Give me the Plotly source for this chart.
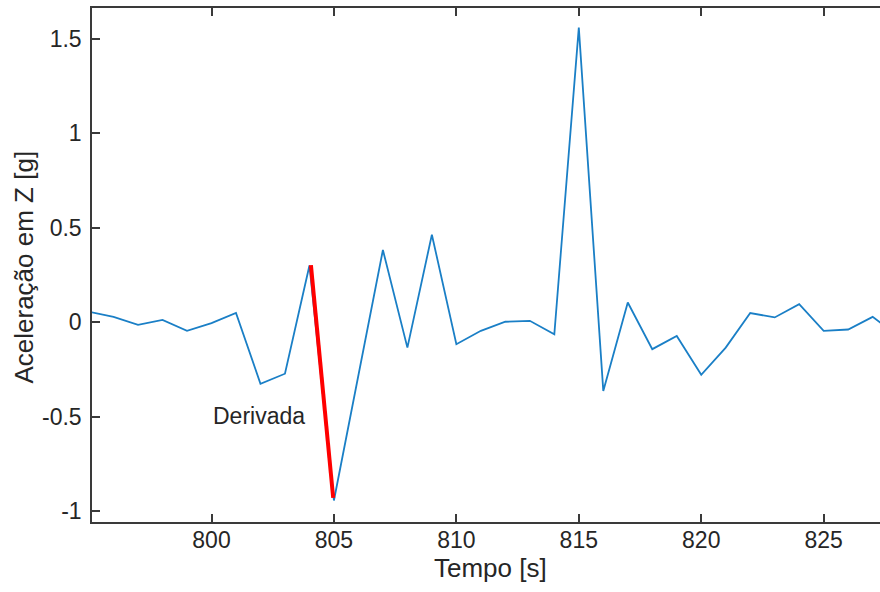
import plotly.graph_objects as go

# Vertical acceleration samples, one per second
tempo = list(range(795, 829))
acel_z = [
    0.055, 0.028, -0.014, 0.012, -0.046, -0.005, 0.049, -0.326, -0.273, 0.300,
    -0.944, -0.280, 0.382, -0.135, 0.463, -0.117, -0.046, 0.002, 0.007, -0.064,
    1.559, -0.364, 0.104, -0.143, -0.073, -0.279, -0.135, 0.048, 0.025, 0.095,
    -0.046, -0.039, 0.028, -0.070,
]

# Steep descent segment highlighted as the derivative
deriv_t = [804.06, 804.97]
deriv_a = [0.302, -0.930]

x_ticks = [800, 805, 810, 815, 820, 825]
y_ticks = [-1, -0.5, 0, 0.5, 1, 1.5]
y_tick_text = ["-1", "-0.5", "0", "0.5", "1", "1.5"]

FONT = "Liberation Sans, Arial, Helvetica, sans-serif"
AXIS_COLOR = "#3a3a3a"

fig = go.Figure()
fig.add_trace(go.Scatter(
    x=tempo, y=acel_z, mode="lines",
    line=dict(color="#1a7fc6", width=1.8),
    showlegend=False, hoverinfo="skip",
))
fig.add_trace(go.Scatter(
    x=deriv_t, y=deriv_a, mode="lines",
    line=dict(color="#FF0000", width=4),
    showlegend=False, hoverinfo="skip",
))

fig.add_annotation(
    x=801.93, y=-0.497, xref="x", yref="y", text="Derivada",
    showarrow=False, font=dict(family=FONT, size=23, color="#262626"),
    xanchor="center", yanchor="middle",
)
fig.add_annotation(
    x=0.5057, y=-0.0889, xref="paper", yref="paper", text="Tempo [s]",
    showarrow=False, font=dict(family=FONT, size=26, color="#262626"),
    xanchor="center", yanchor="middle",
)
fig.add_annotation(
    x=-0.0863, y=0.497, xref="paper", yref="paper", text="Aceleração em Z [g]",
    showarrow=False, textangle=-90, font=dict(family=FONT, size=26, color="#262626"),
    xanchor="center", yanchor="middle",
)

fig.update_layout(
    width=880, height=592,
    margin=dict(l=92, r=0, t=8, b=70),
    paper_bgcolor="white", plot_bgcolor="white",
    font=dict(family=FONT, size=23, color="#262626"),
)
fig.update_xaxes(
    range=[795.12, 827.30],
    tickvals=x_ticks,
    ticks="inside", ticklen=8, tickwidth=1.5, tickcolor=AXIS_COLOR,
    showline=True, linecolor=AXIS_COLOR, linewidth=1.5, mirror="ticks",
    showgrid=False, zeroline=False,
    tickfont=dict(family=FONT, size=23, color="#262626"),
    ticklabelstandoff=-3,
)
fig.update_yaxes(
    range=[-1.058, 1.663],
    tickvals=y_ticks, ticktext=y_tick_text,
    ticks="inside", ticklen=8, tickwidth=1.5, tickcolor=AXIS_COLOR,
    showline=True, linecolor=AXIS_COLOR, linewidth=1.5, mirror=False,
    showgrid=False, zeroline=False,
    tickfont=dict(family=FONT, size=23, color="#262626"),
    ticklabelstandoff=4,
)

fig.write_html("out.html")
